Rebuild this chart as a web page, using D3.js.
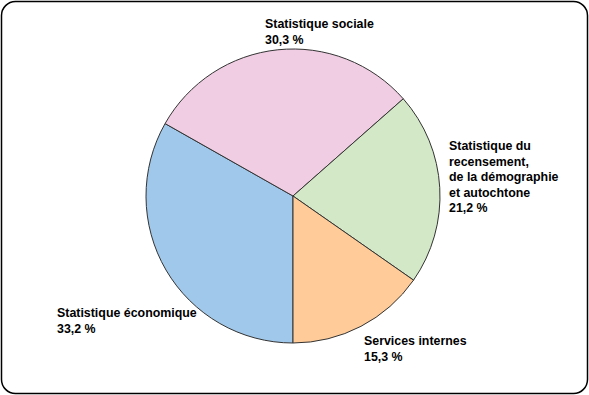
<!DOCTYPE html>
<html>
<head>
<meta charset="utf-8">
<script src="https://cdn.jsdelivr.net/npm/d3@7"></script>
<style>
  body { margin: 0; background: #fff; }
  text { font-family: "Liberation Sans", Arial, sans-serif; font-weight: bold; font-size: 12.4px; fill: #000; }
</style>
</head>
<body>
<div id="chart"></div>
<script>
// slice data, clockwise from 6 o'clock
const categories = ["Statistique économique", "Statistique sociale", "Statistique du recensement, de la démographie et autochtone", "Services internes"];
const values = [33.2, 30.3, 21.2, 15.3];
const labels = [
  ["Statistique économique", "33,2 %"],
  ["Statistique sociale", "30,3 %"],
  ["Statistique du", "recensement,", "de la démographie", "et autochtone", "21,2 %"],
  ["Services internes", "15,3 %"]
];
const colors = ["#a0c8ea", "#f0cde3", "#d3e8c6", "#ffcc99"];

const width = 589, height = 395;
const cx = 293, cy = 196, radius = 147;
// label anchor points (first baseline)
const labelPos = [[57, 317], [265, 28], [449, 150], [364, 345]];
const lineH = 15.5;

const svg = d3.select("#chart").append("svg")
    .attr("width", width)
    .attr("height", height);

svg.append("rect")
    .attr("x", 1.5).attr("y", 1.5)
    .attr("width", width - 3).attr("height", height - 3)
    .attr("rx", 14).attr("ry", 14)
    .attr("fill", "#fff")
    .attr("stroke", "#000")
    .attr("stroke-width", 1.5);

const pie = d3.pie()
    .sort(null)
    .startAngle(Math.PI)
    .endAngle(3 * Math.PI)
    .value(d => d);

const arc = d3.arc().innerRadius(0).outerRadius(radius);

const g = svg.append("g").attr("transform", `translate(${cx},${cy})`);

g.selectAll("path")
  .data(pie(values))
  .join("path")
    .attr("d", arc)
    .attr("fill", (d, i) => colors[i])
    .attr("stroke", "#333")
    .attr("stroke-width", 1);

const lab = svg.append("g");
labels.forEach((lines, i) => {
  const t = lab.append("text")
      .attr("x", labelPos[i][0])
      .attr("y", labelPos[i][1]);
  lines.forEach((l, j) => {
    t.append("tspan")
        .attr("x", labelPos[i][0])
        .attr("dy", j === 0 ? 0 : lineH)
        .text(l);
  });
});
</script>
</body>
</html>
